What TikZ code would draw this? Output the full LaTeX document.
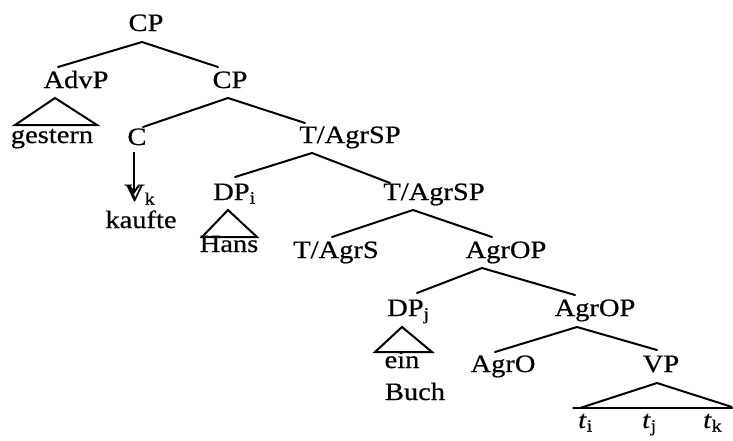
\documentclass[tikz,border=0pt]{standalone}
\usepackage{fontspec}
\setmainfont{Liberation Serif}[FakeStretch=1.14,FakeBold=0.6]
\usetikzlibrary{arrows.meta}
\begin{document}
\begin{tikzpicture}[x=1pt,y=-1pt,
  lab/.style={anchor=base,inner sep=0pt,font=\fontsize{25}{25}\selectfont},
  labw/.style={lab,anchor=base west},
  br/.style={line width=2pt,line join=round,line cap=round},
  tri/.style={line width=2pt,line join=miter}]
\useasboundingbox (0,0) rectangle (733,440);
% nodes
\node[lab] (cp1) at (146,31) {CP};
\node[lab] (advp) at (76,88) {AdvP};
\node[lab] (cp2) at (230,88) {CP};
\node[lab] (gestern) at (52,143) {gestern};
\node[lab] (c) at (137,145) {C};
\node[lab] (tasp1) at (350,143) {T/AgrSP};
\node[labw] (vk) at (124,201) {V\textsubscript{k}};
\node[lab] (kaufte) at (141,228) {kaufte};
\node[labw] (dpi) at (213,200) {DP\textsubscript{i}};
\node[lab] (hans) at (229,252) {Hans};
\node[lab] (tasp2) at (434,200) {T/AgrSP};
\node[lab] (tas) at (336,258) {T/AgrS};
\node[lab] (agrop1) at (506,258) {AgrOP};
\node[labw] (dpj) at (387,316) {DP\textsubscript{j}};
\node[lab] (agrop2) at (595,316) {AgrOP};
\node[lab] (ein) at (402,368) {ein};
\node[lab] (buch) at (415,400) {Buch};
\node[lab] (agro) at (503,372) {AgrO};
\node[lab] (vp) at (661,372) {VP};
\node[labw] (ti) at (578,428) {\textit{t}\textsubscript{i}};
\node[labw] (tj) at (642,428) {\textit{t}\textsubscript{j}};
\node[labw] (tk) at (703,428) {\textit{t}\textsubscript{k}};
% branches
\draw[br] ([shift={(-18,-21)}]advp.base) -- ([shift={(-4,11)}]cp1.base) -- ([shift={(-12,-21)}]cp2.base);
\draw[tri] ([shift={(-21,10)}]advp.base) -- ([shift={(-37,-18)}]gestern.base) -- ([shift={(45,-18)}]gestern.base) -- cycle;
\draw[br] ([shift={(6,-18)}]c.base) -- ([shift={(-2,10)}]cp2.base) -- ([shift={(-45,-20)}]tasp1.base);
\draw[line width=2pt,-{Straight Barb[length=7pt,width=10pt]}] ([shift={(-3,7)}]c.base) -- ([shift={(10,-7)}]vk.base west);
\draw[br] ([shift={(22,-23)}]dpi.base west) -- ([shift={(-38,10)}]tasp1.base) -- ([shift={(-44,-17)}]tasp2.base);
\draw[tri] ([shift={(15,10)}]dpi.base west) -- ([shift={(-27,-15)}]hans.base) -- ([shift={(28,-15)}]hans.base) -- cycle;
\draw[br] ([shift={(-4,-21)}]tas.base) -- ([shift={(-21,10)}]tasp2.base) -- ([shift={(-14,-21)}]agrop1.base);
\draw[br] ([shift={(30,-23)}]dpj.base west) -- ([shift={(-24,10)}]agrop1.base) -- ([shift={(-20,-21)}]agrop2.base);
\draw[tri] ([shift={(15,11)}]dpj.base west) -- ([shift={(-27,-16)}]ein.base) -- ([shift={(30,-16)}]ein.base) -- cycle;
\draw[br] ([shift={(-8,-20)}]agro.base) -- ([shift={(-18,11)}]agrop2.base) -- ([shift={(-4,-22)}]vp.base);
\draw[tri] ([shift={(2,-20)}]ti.base west) -- ([shift={(-4,11)}]vp.base) -- ([shift={(29,-21)}]tk.base west);
\draw[br] ([shift={(-5,-20)}]ti.base west) -- ([shift={(29,-20)}]tk.base west);
\end{tikzpicture}
\end{document}
